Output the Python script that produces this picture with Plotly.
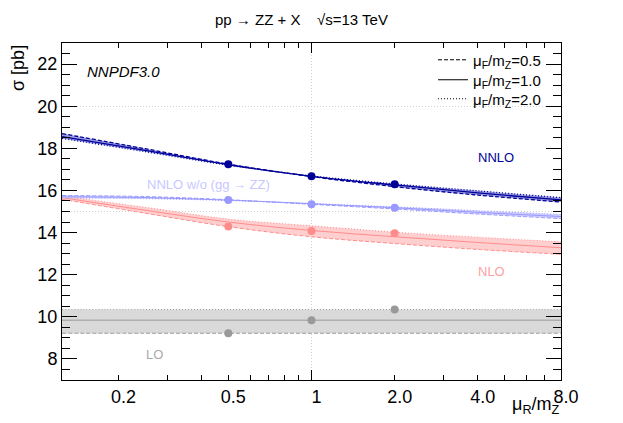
import numpy as np
import plotly.graph_objects as go

# ---------------- data ----------------
mu_r = [0.125, 0.25, 0.5, 1.0, 2.0, 4.0, 8.0]

nnlo_f05 = [18.70, 17.98, 17.25, 16.66, 16.18, 15.78, 15.45]
nnlo_f10 = [18.56, 17.90, 17.22, 16.67, 16.26, 15.88, 15.55]
nnlo_f20 = [18.47, 17.84, 17.20, 16.69, 16.31, 15.98, 15.66]

nogg_f05 = [15.76, 15.71, 15.56, 15.34, 15.12, 14.88, 14.66]
nogg_f10 = [15.70, 15.66, 15.54, 15.37, 15.18, 14.96, 14.76]
nogg_f20 = [15.64, 15.61, 15.52, 15.38, 15.22, 15.04, 14.86]

nlo_f05 = [15.58, 14.92, 14.28, 13.80, 13.48, 13.20, 12.97]
nlo_f10 = [15.66, 15.06, 14.50, 14.10, 13.80, 13.53, 13.28]
nlo_f20 = [15.74, 15.20, 14.64, 14.32, 14.02, 13.78, 13.56]

lo_f05 = [9.22, 9.22, 9.22, 9.22, 9.22, 9.22, 9.22]
lo_f10 = [9.84, 9.84, 9.84, 9.84, 9.84, 9.84, 9.84]
lo_f20 = [10.35, 10.35, 10.35, 10.35, 10.35, 10.35, 10.35]

# central points mu_R = mu_F
mu_pts = [0.5, 1.0, 2.0]
nnlo_pts = [17.24, 16.67, 16.29]
nogg_pts = [15.55, 15.35, 15.18]
nlo_pts = [14.29, 14.07, 13.97]
lo_pts = [9.22, 9.84, 10.35]

x_ticks = [0.2, 0.5, 1, 2, 4, 8]
x_ticktext = ["0.2", "0.5", "1", "2.0", "4.0", "8.0"]
x_minor = [0.3, 0.4, 0.6, 0.7, 0.8, 0.9, 3, 5, 6, 7]
legend_names = ["μ<sub>F</sub>/m<sub>Z</sub>=0.5",
                "μ<sub>F</sub>/m<sub>Z</sub>=1.0",
                "μ<sub>F</sub>/m<sub>Z</sub>=2.0"]

FONT = "Liberation Sans"
DASH = "4px,2px"
DOT = "1px,2px"

# plot area on screen (page has an 8px body margin)
PL, PR, PT, PB = 62, 561, 43, 380
OFF = 8


def px(xp):
    return (xp - PL) / (PR - PL)


def py(yp):
    return (PB - yp) / (PB - PT)


series = [
    ("LO", (lo_f05, lo_f10, lo_f20), lo_pts, "#999999", "#d9d9d9", 1.0),
    ("NLO", (nlo_f05, nlo_f10, nlo_f20), nlo_pts, "#ff8c8c", "#ffcfcf", 1.0),
    ("NNLO w/o", (nogg_f05, nogg_f10, nogg_f20), nogg_pts, "#9999ff", "#cfcfff", 1.0),
    ("NNLO", (nnlo_f05, nnlo_f10, nnlo_f20), nnlo_pts, "#000099", "#9a9ae0", 1.3),
]

fig = go.Figure()

for name, (c05, c10, c20), pts, lc, bc, lw in series:
    arr = np.array([c05, c10, c20])
    lo = arr.min(axis=0)
    hi = arr.max(axis=0)
    fig.add_trace(go.Scatter(x=mu_r, y=lo, mode="lines", line=dict(width=0, shape="spline"),
                             showlegend=False, hoverinfo="skip"))
    fig.add_trace(go.Scatter(x=mu_r, y=hi, mode="lines", line=dict(width=0, shape="spline"),
                             fill="tonexty", fillcolor=bc, showlegend=False, hoverinfo="skip"))
    for c, d in ((c05, DASH), (c10, "solid"), (c20, DOT)):
        fig.add_trace(go.Scatter(x=mu_r, y=c, mode="lines",
                                 line=dict(color=lc, width=lw, dash=d, shape="spline"),
                                 showlegend=False, hoverinfo="skip"))
    fig.add_trace(go.Scatter(x=mu_pts, y=pts, mode="markers",
                             marker=dict(color=lc, size=8), showlegend=False))

leg_ids = ["legend", "legend2", "legend3"]
for nm, d, lg in zip(legend_names, (DASH, "solid", DOT), leg_ids):
    fig.add_trace(go.Scatter(x=[None], y=[None], mode="lines", name=nm, legend=lg,
                             line=dict(color="black", width=1, dash=d)))

# overlay axes for the dotted grid
fig.add_trace(go.Scatter(x=[1], y=[15], mode="markers", marker=dict(opacity=0),
                         xaxis="x2", yaxis="y2", showlegend=False, hoverinfo="skip"))

xr = [np.log10(0.125) - 1e-4, np.log10(8) + 1e-4]
yr = [7, 23]

W, H = 623 - OFF, 423 - OFF
leg_rows = [60, 80, 99]
leg_common = dict(x=px(546), xanchor="right", yanchor="middle", bgcolor="rgba(0,0,0,0)",
                  font=dict(size=15, family=FONT), itemwidth=30, traceorder="normal")

fig.update_layout(
    width=W, height=H,
    margin=dict(l=PL - OFF, r=W - (PR - OFF), t=PT - OFF, b=H - (PB - OFF)),
    paper_bgcolor="white", plot_bgcolor="white",
    font=dict(family=FONT, color="black", size=18),
    showlegend=True,
    legend=dict(y=py(leg_rows[0]), **leg_common),
    legend2=dict(y=py(leg_rows[1]), **leg_common),
    legend3=dict(y=py(leg_rows[2]), **leg_common),
    xaxis=dict(type="log", range=xr, tickmode="array", tickvals=x_ticks, ticktext=x_ticktext,
               ticks="inside", ticklen=5, tickcolor="black", showline=True, linecolor="black",
               linewidth=1, mirror="ticks", showgrid=False, zeroline=False,
               tickfont=dict(size=18), ticklabelshift=5,
               minor=dict(tickmode="array", tickvals=x_minor, ticks="inside", ticklen=5,
                          tickcolor="black", showgrid=False)),
    yaxis=dict(range=yr, tick0=0, dtick=2, ticks="inside", ticklen=15, tickcolor="black",
               showline=True, linecolor="black", linewidth=1, mirror="ticks",
               showgrid=False, zeroline=False, tickfont=dict(size=18),
               minor=dict(dtick=0.5, ticks="inside", ticklen=8, tickcolor="black",
                          showgrid=False)),
    xaxis2=dict(type="log", range=xr, overlaying="x", anchor="y2", tickmode="array",
                tickvals=[1], ticks="inside", ticklen=10, tickcolor="black", mirror="ticks",
                showticklabels=False, showline=False, zeroline=False,
                showgrid=True, gridcolor="#d0d0d0", griddash="1px,2px", gridwidth=1),
    yaxis2=dict(range=yr, overlaying="y", anchor="x2", tick0=0, dtick=5, ticks="",
                showticklabels=False, showline=False, zeroline=False,
                showgrid=True, gridcolor="#d0d0d0", griddash="1px,2px", gridwidth=1),
)

fig.add_annotation(text="pp → ZZ + X", xref="paper", yref="paper", x=px(213), y=py(20),
                   xanchor="left", yanchor="middle", showarrow=False,
                   font=dict(size=15, family=FONT))
fig.add_annotation(text="√s=13 TeV", xref="paper", yref="paper", x=px(315), y=py(20),
                   xanchor="left", yanchor="middle", showarrow=False,
                   font=dict(size=15, family=FONT))

fig.add_annotation(text="<i>NNPDF3.0</i>", xref="paper", yref="paper", x=px(85), y=py(72),
                   xanchor="left", yanchor="middle", showarrow=False,
                   font=dict(size=15, family=FONT, color="black"))
labels = [
    ("NNLO", 496, 157, "#000099"),
    ("NNLO w/o (gg → ZZ)", 208, 184, "#c8c8ff"),
    ("NLO", 491, 271, "#ffa0a0"),
    ("LO", 154, 354, "#aaaaaa"),
]
for t, lx, ly, c in labels:
    fig.add_annotation(text=t, xref="paper", yref="paper", x=px(lx), y=py(ly),
                       xanchor="center", yanchor="middle", showarrow=False,
                       font=dict(size=13, family=FONT, color=c))

fig.add_annotation(text="σ [pb]", xref="paper", yref="paper", x=px(18), y=py(43),
                   xanchor="center", yanchor="top", textangle=-90, showarrow=False,
                   font=dict(size=18, family=FONT))
fig.add_annotation(text="μ<sub>R</sub>/m<sub>Z</sub>", xref="paper", yref="paper", x=px(561),
                   y=py(405), xanchor="right", yanchor="middle", showarrow=False,
                   font=dict(size=18, family=FONT))

fig.write_html("out.html")
